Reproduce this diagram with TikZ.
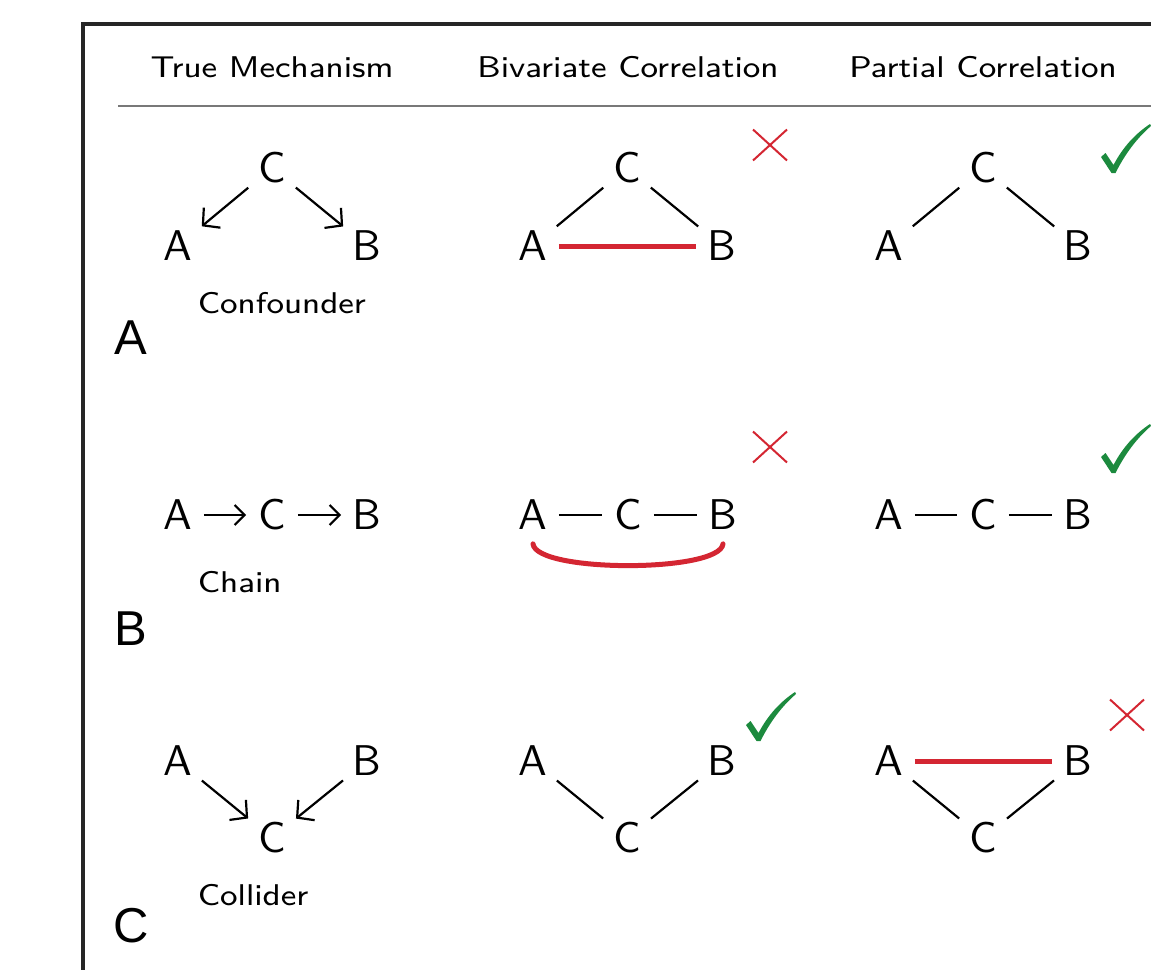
\documentclass[tikz,border=0pt]{standalone}
\usepackage{fontspec}
\usepackage{graphicx}
\usetikzlibrary{arrows.meta}
\newfontfamily\panelfont{Liberation Sans}
\definecolor{xred}{RGB}{212,38,50}
\definecolor{cgreen}{RGB}{28,138,62}
\definecolor{rulegray}{RGB}{120,120,120}
\newcommand{\wide}[1]{\scalebox{1.1}[1]{#1}}
\tikzset{
  v/.style={circle, minimum size=50pt/4.3, inner sep=0pt, scale=4.3, font=\sffamily\fontsize{10}{10}\selectfont},
  hdr/.style={anchor=base, scale=3.75, font=\sffamily\fontsize{8}{8}\selectfont, inner sep=0pt},
  lbl/.style={anchor=base west, scale=3.75, font=\sffamily\fontsize{8}{8}\selectfont, inner sep=0pt},
  panel/.style={anchor=base, font=\panelfont\fontsize{49}{49}\selectfont, inner sep=0pt},
  edg/.style={line width=2.2pt, shorten <=5pt, shorten >=5pt},
  hedg/.style={line width=2.2pt},
  arr/.style={line width=2.2pt, shorten <=5pt, shorten >=5pt, -{Straight Barb[length=12pt,width=26pt]}},
  harr/.style={line width=2.2pt, -{Straight Barb[length=10pt,width=20pt]}},
  redl/.style={line width=5pt, draw=xred},
  wrong/.pic={\draw[xred, line width=2pt] (-17,-15.5) -- (17,15.5) (-17,15.5) -- (17,-15.5);},
  right/.pic={\fill[cgreen] (-12,-15) -- (-7.5,-19) -- (0.5,-7) .. controls (10,-25) and (22,-38) .. (37,-48) -- (38,-46) .. controls (24,-34) and (12,-18) .. (2.5,1) -- (-1.5,1) -- cycle;}
}
\begin{document}
\begin{tikzpicture}[x=1pt, y=-1pt]
\useasboundingbox (0,0) rectangle (1151,969);
\clip (0,0) rectangle (1151,969);
% frame
\draw[line width=4pt, draw=black!85] (83,990) -- (83,24) -- (1170,24);
% headers
\node[hdr] (h1) at (272,77) {\wide{True Mechanism}};
\node[hdr] (h2) at (628,77) {\wide{Bivariate Correlation}};
\node[hdr] (h3) at (983,77) {\wide{Partial Correlation}};
\draw[line width=1.5pt, draw=rulegray] (118,106) -- (1170,106);

% ---------- Row 1: Confounder ----------
\node[v] (a1A) at (178,246) {A};
\node[v] (a1B) at (367,246) {B};
\node[v] (a1C) at (272,168) {C};
\draw[arr] (a1C) -- (a1A);
\draw[arr] (a1C) -- (a1B);
\node[lbl] (l1) at (197,313) {\wide{Confounder}};
\node[panel] (pA) at (131,354) {A};

\node[v] (b1A) at (533,246) {A};
\node[v] (b1B) at (722,246) {B};
\node[v] (b1C) at (627,168) {C};
\draw[edg] (b1C) -- (b1A);
\draw[edg] (b1C) -- (b1B);
\draw[redl] (b1A) -- (b1B);
\pic at (770,145) {wrong};

\node[v] (c1A) at (889,246) {A};
\node[v] (c1B) at (1078,246) {B};
\node[v] (c1C) at (983,168) {C};
\draw[edg] (c1C) -- (c1A);
\draw[edg] (c1C) -- (c1B);
\pic at (1113,172) {right};

% ---------- Row 2: Chain ----------
\node[v] (a2A) at (178,515) {A};
\node[v] (a2C) at (272,515) {C};
\node[v] (a2B) at (367,515) {B};
\draw[harr] (a2A) -- (a2C);
\draw[harr] (a2C) -- (a2B);
\node[lbl] (l2) at (197,592) {\wide{Chain}};
\node[panel] (pB) at (131,645) {B};

\node[v] (b2A) at (533,515) {A};
\node[v] (b2C) at (628,515) {C};
\node[v] (b2B) at (723,515) {B};
\draw[hedg] (b2A) -- (b2C);
\draw[hedg] (b2C) -- (b2B);
\draw[redl, line cap=round] ([yshift=-3pt]b2A.south) .. controls +(3,29) and +(-3,29) .. ([yshift=-3pt]b2B.south);
\pic at (770,447) {wrong};

\node[v] (c2A) at (889,515) {A};
\node[v] (c2C) at (983,515) {C};
\node[v] (c2B) at (1078,515) {B};
\draw[hedg] (c2A) -- (c2C);
\draw[hedg] (c2C) -- (c2B);
\pic at (1113,472) {right};

% ---------- Row 3: Collider ----------
\node[v] (a3A) at (178,761) {A};
\node[v] (a3B) at (367,761) {B};
\node[v] (a3C) at (272,838) {C};
\draw[arr] (a3A) -- (a3C);
\draw[arr] (a3B) -- (a3C);
\node[lbl] (l3) at (197,905) {\wide{Collider}};
\node[panel] (pC) at (131,942) {C};

\node[v] (b3A) at (533,761) {A};
\node[v] (b3B) at (722,761) {B};
\node[v] (b3C) at (627,838) {C};
\draw[edg] (b3A) -- (b3C);
\draw[edg] (b3B) -- (b3C);
\pic at (758,740) {right};

\node[v] (c3A) at (889,761) {A};
\node[v] (c3B) at (1078,761) {B};
\node[v] (c3C) at (983,838) {C};
\draw[edg] (c3A) -- (c3C);
\draw[edg] (c3B) -- (c3C);
\draw[redl] (c3A) -- (c3B);
\pic at (1127,715) {wrong};
\end{tikzpicture}
\end{document}
